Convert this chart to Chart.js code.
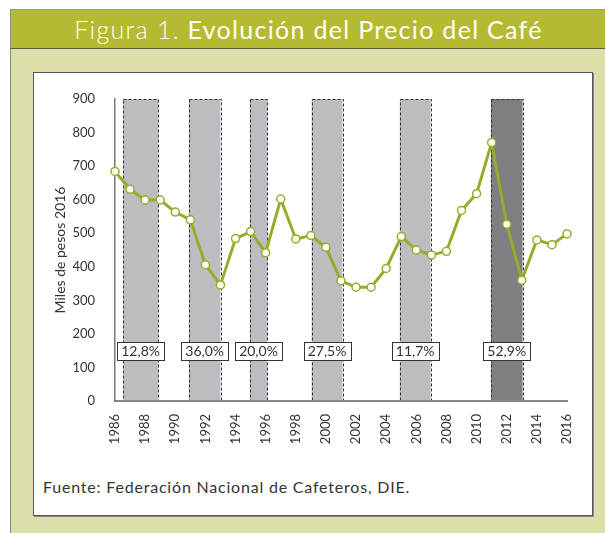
<!DOCTYPE html>
<html>
<head>
<meta charset="utf-8">
<script src="https://cdn.jsdelivr.net/npm/chart.js@4"></script>
<style>
  html, body { margin: 0; padding: 0; background: #fff; }
  body { width: 605px; height: 533px; position: relative; overflow: hidden; font-family: "Lato", "Open Sans", sans-serif; }
  .frame { position: absolute; left: 10px; top: 9px; width: 620px; height: 560px; background: #dcdfaa; border-left: 1px solid #8a8a7a; border-top: 1px solid #9a9a8a; }
  .title { position: absolute; left: 0; top: 0; width: 595px; height: 38px; background: #b5bb30; border-bottom: 1px solid #5a5a40; color: #fff; font-size: 25px; line-height: 38px; text-align: center; letter-spacing: 1.3px; }
  .title .light { font-weight: 300; }
  .title .bold { font-weight: 400; }
  .panel { position: absolute; left: 33px; top: 72px; width: 558px; height: 442px; background: #fff; border: 1px solid #555; box-shadow: 1px 1px 0 #888; }
  .source { position: absolute; left: 43px; top: 477px; font-size: 16px; color: #333; letter-spacing: 0.8px; }
  #wrap { position: absolute; left: 33px; top: 73px; width: 559px; height: 380px; }
</style>
</head>
<body>
<div class="frame">
  <div class="title"><span class="light">Figura 1.</span> <span class="bold">Evolución del Precio del Café</span></div>
</div>
<div class="panel"></div>
<div id="wrap"><canvas id="coffeeChart"></canvas></div>
<div class="source">Fuente: Federación Nacional de Cafeteros, DIE.</div>

<script>
const years = [1986, 1987, 1988, 1989, 1990, 1991, 1992, 1993, 1994, 1995, 1996, 1997, 1998, 1999, 2000, 2001,
  2002, 2003, 2004, 2005, 2006, 2007, 2008, 2009, 2010, 2011, 2012, 2013, 2014, 2015, 2016];
const prices = [684, 631, 599, 599, 563, 540, 406, 346, 484, 505, 442, 602, 483, 493, 458, 358,
  339, 339, 395, 490, 450, 435, 446, 568, 618, 770, 527, 360, 480, 466, 498];

// periodos sombreados (caidas de precio)
const bandStarts = [1986.55, 1990.9, 1994.95, 1999.05, 2004.9, 2010.95];
const bandEnds = [1988.85, 1993.0, 1996.1, 2001.1, 2006.95, 2013.05];
const bandLabels = ["12,8%", "36,0%", "20,0%", "27,5%", "11,7%", "52,9%"];

const yTicks = [0, 100, 200, 300, 400, 500, 600, 700, 800, 900];

const bandsPlugin = {
  id: "bands",
  beforeDraw(chart) {
    const { ctx, scales: { x, y } } = chart;
    const top = y.getPixelForValue(900);
    const bottom = y.getPixelForValue(0);
    ctx.save();
    bandStarts.forEach((s, i) => {
      const x0 = x.getPixelForValue(s);
      const x1 = x.getPixelForValue(bandEnds[i]);
      ctx.fillStyle = i === bandStarts.length - 1 ? "#7e7f83" : "#bcbdc0";
      ctx.fillRect(x0, top, x1 - x0, bottom - top);
      ctx.strokeStyle = "#333";
      ctx.lineWidth = 1;
      ctx.setLineDash([3, 2]);
      ctx.strokeRect(Math.round(x0) + 0.5, Math.round(top) + 0.5, Math.round(x1 - x0), Math.round(bottom - top));
    });
    ctx.restore();
  },
  afterDatasetsDraw(chart) {
    const { ctx, scales: { x, y } } = chart;
    const cy = y.getPixelForValue(150);
    ctx.save();
    ctx.font = "14px Lato, sans-serif";
    ctx.textAlign = "center";
    ctx.textBaseline = "middle";
    bandLabels.forEach((label, i) => {
      const cx = (x.getPixelForValue(bandStarts[i]) + x.getPixelForValue(bandEnds[i])) / 2;
      const w = ctx.measureText(label).width + 8;
      const h = 18;
      const bx = Math.round(cx - w / 2) + 0.5;
      const by = Math.round(cy - h / 2) + 0.5;
      ctx.fillStyle = "#fff";
      ctx.fillRect(bx, by, Math.round(w), h);
      ctx.strokeStyle = "#333";
      ctx.lineWidth = 1;
      ctx.strokeRect(bx, by, Math.round(w), h);
      ctx.fillStyle = "#333";
      ctx.fillText(label, cx, cy + 1);
    });
    ctx.restore();
  },
};

new Chart(document.getElementById("coffeeChart").getContext("2d"), {
  type: "line",
  data: {
    datasets: [
      {
        label: "Precio del café",
        data: years.map((yr, i) => ({ x: yr, y: prices[i] })),
        borderColor: "#9aaa2a",
        borderWidth: 3,
        pointBackgroundColor: "#fff",
        pointBorderColor: "#9aaa2a",
        pointBorderWidth: 1.5,
        pointRadius: 4,
        tension: 0,
        clip: false,
      },
    ],
  },
  plugins: [bandsPlugin],
  options: {
    responsive: true,
    maintainAspectRatio: false,
    animation: false,
    layout: { padding: { top: 26, right: 25, left: 0, bottom: 0 } },
    plugins: {
      legend: { display: false },
      tooltip: { enabled: false },
    },
    scales: {
      x: {
        type: "linear",
        min: 1986,
        max: 2016,
        grid: { display: false },
        border: { display: true, color: "#888", width: 2 },
        afterFit: (scale) => { scale.height = 52; },
        ticks: {
          stepSize: 2,
          minRotation: 90,
          maxRotation: 90,
          padding: 5,
          color: "#333",
          font: { family: "Lato", size: 13 },
          callback: (v) => String(v),
        },
      },
      y: {
        min: 0,
        max: 900,
        grid: { display: false },
        border: { display: true, color: "#777", width: 1.5 },
        afterFit: (scale) => { scale.width = 82; },
        afterBuildTicks: (scale) => { scale.ticks = yTicks.map((v) => ({ value: v })); },
        ticks: {
          padding: 12,
          color: "#333",
          font: { family: "Lato", size: 13 },
        },
        title: {
          display: true,
          text: "Miles de pesos 2016",
          color: "#333",
          font: { family: "Lato", size: 14 },
          padding: { top: 19, bottom: 0 },
        },
      },
    },
  },
});
</script>
</body>
</html>
